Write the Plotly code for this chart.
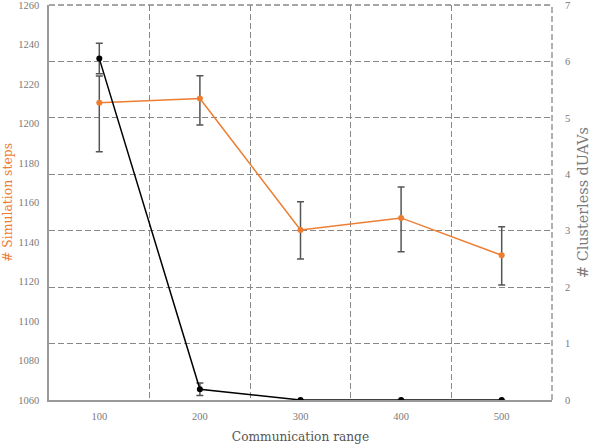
import plotly.graph_objects as go

comm_range = [100, 200, 300, 400, 500]

# simulation steps (left axis), with asymmetric error bars
steps = [1210.5, 1212.6, 1146.1, 1152.2, 1133.3]
steps_err_up = [13.6, 11.6, 14.3, 15.6, 14.4]
steps_err_down = [24.8, 13.4, 14.7, 17.1, 15.1]

# clusterless dUAVs (right axis)
clusterless = [6.05, 0.19, 0, 0, 0]
clusterless_err = [0.27, 0.11, 0, 0, 0]

orange = '#ED7D31'
grey_txt = '#7a7a7a'
tick_font = 'Liberation Serif'
title_font = 'DejaVu Serif'
grid_col = '#888888'
grid_dash = '6px,3px'

fig = go.Figure()

fig.add_trace(go.Scatter(
    x=comm_range, y=steps, mode='lines+markers', name='steps',
    line=dict(color=orange, width=1.5),
    marker=dict(color=orange, size=6),
    error_y=dict(type='data', symmetric=False, array=steps_err_up,
                 arrayminus=steps_err_down, color='#555555',
                 thickness=1.5, width=3.5),
    yaxis='y'))

fig.add_trace(go.Scatter(
    x=comm_range, y=clusterless, mode='lines+markers', name='clusterless',
    line=dict(color='black', width=1.5),
    marker=dict(color='black', size=6),
    error_y=dict(type='data', array=clusterless_err, color='#555555',
                 thickness=1.5, width=3.5),
    yaxis='y2'))

# dummy trace on overlay x axis so its dashed grid is drawn
fig.add_trace(go.Scatter(x=[50, 550], y=[0, 0], xaxis='x2', yaxis='y2',
                         mode='markers', marker=dict(opacity=0),
                         hoverinfo='skip', showlegend=False))

# dashed frame on top and right (plotly skips grid lines at the range ends)
fig.add_shape(type='line', xref='paper', yref='paper', x0=0, x1=1, y0=1, y1=1,
              line=dict(color=grid_col, width=1.3, dash=grid_dash), layer='below')
fig.add_shape(type='line', xref='paper', yref='paper', x0=1, x1=1, y0=0, y1=1,
              line=dict(color=grid_col, width=1.3, dash=grid_dash), layer='below')

fig.update_layout(
    width=592, height=446,
    margin=dict(l=49, r=40, t=5, b=46),
    plot_bgcolor='white', paper_bgcolor='white',
    showlegend=False,
    font=dict(family=tick_font, color=grey_txt, size=11),
    xaxis=dict(
        range=[50, 550], tickvals=comm_range, showgrid=False,
        showline=True, linecolor='#999999', linewidth=1.5,
        ticks='', ticklabelstandoff=6,
        tickfont=dict(size=10.5, color=grey_txt),
        title=dict(text='Communication range', standoff=11,
                   font=dict(family=title_font, size=12.2, color='#555555')),
        zeroline=False, automargin=False),
    xaxis2=dict(
        range=[50, 550], overlaying='x', tick0=50, dtick=100,
        showgrid=True, gridcolor=grid_col, griddash=grid_dash,
        gridwidth=1.3, showticklabels=False, ticks='', showline=False,
        zeroline=False, automargin=False),
    yaxis=dict(
        range=[1060, 1260], dtick=20, showgrid=False,
        showline=True, linecolor='#999999', linewidth=1.5,
        ticks='', ticklabelstandoff=6, ticklabeloverflow='allow',
        tickfont=dict(size=10.5, color=grey_txt),
        title=dict(text='# Simulation steps', standoff=7,
                   font=dict(family=title_font, size=12.4, color=orange)),
        zeroline=False, automargin=False),
    yaxis2=dict(
        range=[0, 7], dtick=1, overlaying='y', side='right',
        showgrid=True, gridcolor=grid_col, griddash=grid_dash,
        gridwidth=1.3, showline=False, ticks='', ticklabelstandoff=12,
        ticklabeloverflow='allow',
        tickfont=dict(size=10.5, color=grey_txt),
        title=dict(text='# Clusterless dUAVs', standoff=7,
                   font=dict(family=title_font, size=14.4, color=grey_txt)),
        zeroline=False, automargin=False),
)

# page has a default body margin, drop it so the figure fills the window
fig.write_html("out.html", config={'displayModeBar': False},
               post_script="document.body.style.margin='0';")
